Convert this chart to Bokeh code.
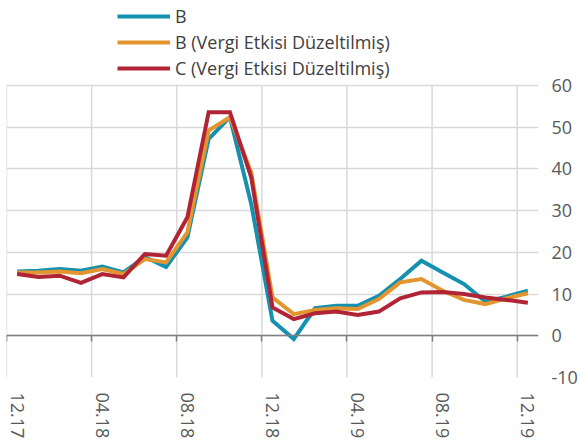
from bokeh.plotting import figure
from bokeh.models import (Range1d, FixedTicker, LinearAxis, Legend, LegendItem,
                          ColumnDataSource)
from bokeh.embed import file_html
from bokeh.resources import INLINE

months = ["12.17", "01.18", "02.18", "03.18", "04.18", "05.18", "06.18", "07.18", "08.18",
          "09.18", "10.18", "11.18", "12.18", "01.19", "02.19", "03.19", "04.19", "05.19",
          "06.19", "07.19", "08.19", "09.19", "10.19", "11.19", "12.19"]
series_b = [15.4, 15.6, 16.0, 15.6, 16.6, 15.2, 18.9, 16.5, 23.6, 47.2, 52.4, 31.6, 3.6,
            -0.8, 6.6, 7.2, 7.2, 9.6, 13.6, 18.0, 15.2, 12.4, 8.2, 9.4, 10.8]
series_b_adj = [15.2, 15.2, 15.4, 15.0, 16.0, 14.8, 18.4, 17.6, 24.8, 49.2, 52.4, 39.2, 9.2,
                5.2, 6.2, 6.6, 6.4, 8.8, 12.8, 13.6, 10.8, 8.6, 7.6, 9.0, 10.2]
series_c_adj = [14.8, 14.1, 14.4, 12.7, 14.8, 14.0, 19.6, 19.2, 28.4, 53.6, 53.6, 38.0, 6.8,
                4.0, 5.4, 5.8, 5.0, 5.8, 9.0, 10.4, 10.5, 10.0, 9.2, 8.6, 7.9]
names = ["B", "B (Vergi Etkisi Düzeltilmiş)", "C (Vergi Etkisi Düzeltilmiş)"]
colors = ["#1391AE", "#E3962F", "#B02435"]
y_ticks = [-10, 0, 10, 20, 30, 40, 50, 60]

x = list(range(len(months)))
label_idx = [i for i in x if i % 4 == 0]
boundaries = [i - 0.5 for i in label_idx if i - 0.5 < len(months) - 1]

FONT = "Open Sans"
GRAY = "#595959"

# plot area: value axis -10..60 spans 292 px; extra headroom above for the legend
y_min, y_max = min(y_ticks), max(y_ticks)
px_per_unit = 292 / (y_max - y_min)
top_extra = 82 / px_per_unit

p = figure(width=580, height=441, output_backend="svg", toolbar_location=None,
           x_range=Range1d(-0.5, len(months) - 0.5),
           y_range=Range1d(y_min, y_max + top_extra),
           y_axis_location="right", min_border_left=6, min_border_top=3,
           min_border_right=0, min_border_bottom=0)
p.outline_line_color = None
p.background_fill_color = "white"
p.border_fill_color = "white"

# bottom labels axis
xa = p.xaxis[0]
xa.ticker = FixedTicker(ticks=label_idx)
xa.major_label_overrides = {i: months[i] for i in label_idx}
xa.major_label_orientation = "vertical"
xa.axis_line_color = None
xa.major_tick_line_color = None
xa.minor_tick_line_color = None
xa.major_label_text_font = FONT
xa.major_label_text_font_size = "18px"
xa.major_label_text_color = GRAY
xa.major_label_standoff = 9

# right y axis
ya = p.yaxis[0]
ya.ticker = FixedTicker(ticks=y_ticks)
ya.major_label_overrides = {-10: "-10"}
ya.axis_line_color = None
ya.major_tick_line_color = None
ya.minor_tick_line_color = None
ya.major_label_text_font = FONT
ya.major_label_text_font_size = "18px"
ya.major_label_text_color = GRAY
ya.major_label_standoff = 7

# grids
p.xgrid.visible = False
p.ygrid.ticker = FixedTicker(ticks=y_ticks)
p.ygrid.grid_line_color = "#D9D9D9"
p.ygrid.grid_line_width = 1.5
p.segment(x0=boundaries, y0=[y_min] * len(boundaries), x1=boundaries,
          y1=[y_max] * len(boundaries), line_color="#D9D9D9", line_width=1.5)

# zero axis with tick marks
zero_axis = LinearAxis(fixed_location=0, ticker=FixedTicker(ticks=boundaries),
                       axis_line_color="#7F7F7F", axis_line_width=1.5,
                       major_tick_line_color="#7F7F7F", major_tick_line_width=1.5,
                       major_tick_out=6, major_tick_in=0,
                       minor_tick_line_color=None,
                       major_label_text_alpha=0, major_label_text_font_size="1px")
p.add_layout(zero_axis, "below")

items = []
for name, ys, col in zip(names, [series_b, series_b_adj, series_c_adj], colors):
    src = ColumnDataSource(dict(x=x, y=ys))
    r = p.line("x", "y", source=src, line_color=col, line_width=4, line_join="miter")
    items.append(LegendItem(label=name, renderers=[r]))

legend = Legend(items=items, location=(111, 296), orientation="vertical",
                background_fill_alpha=0, border_line_color=None,
                label_text_font=FONT, label_text_font_size="18px", label_text_color="#404040",
                glyph_width=53, glyph_height=26, label_height=26, spacing=0,
                padding=0, margin=0, label_standoff=5)
p.add_layout(legend)

open("out.html", "w").write(file_html(p, INLINE))
